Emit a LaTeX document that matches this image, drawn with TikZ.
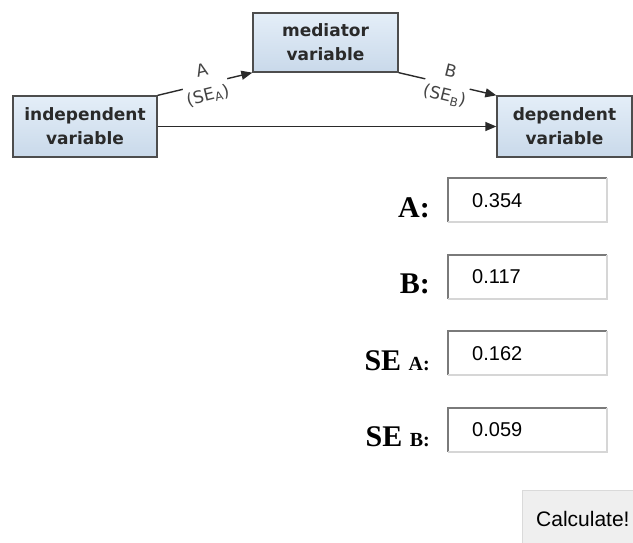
\documentclass[tikz,border=0pt]{standalone}
\usepackage{fontspec}
\setmainfont{Liberation Serif}
\newfontfamily\dvfont{DejaVu Sans}
\newfontfamily\arialfont{Liberation Sans}
\usetikzlibrary{arrows.meta}
\definecolor{boxedge}{HTML}{4D4D4D}
\definecolor{boxtop}{HTML}{E4EEF8}
\definecolor{boxbot}{HTML}{C9D9EA}
\definecolor{vartext}{HTML}{2A2A2A}
\definecolor{labeltext}{HTML}{444444}
\definecolor{connc}{HTML}{2A2A2A}
\definecolor{indark}{HTML}{7A7A7A}
\definecolor{inlight}{HTML}{D6D6D6}
\definecolor{btnfill}{HTML}{EFEFEF}
\definecolor{btnedge}{HTML}{DADADA}
\tikzset{
  varbox/.style={draw=boxedge, line width=1.3pt, top color=boxtop, bottom color=boxbot,
    font=\dvfont\bfseries\fontsize{17}{24}\selectfont, text=vartext, align=center, inner sep=0pt},
  conn/.style={draw=connc, line width=1.4pt, -{Triangle[length=11pt,width=9pt]}},
  elabel/.style={fill=white, inner sep=1pt, font=\dvfont\fontsize{17}{25}\selectfont,
    text=labeltext, align=center},
  inbox/.style={fill=white, minimum width=159pt, minimum height=44pt, inner sep=0pt, anchor=north west},
  indarkline/.style={draw=indark, line width=2pt},
  inlightline/.style={draw=inlight, line width=2pt},
  intext/.style={font=\arialfont\fontsize{20}{24}\selectfont, anchor=base west, inner sep=0pt},
  formlabel/.style={font=\bfseries\fontsize{30}{36}\selectfont, anchor=base east, inner sep=0pt},
}
\newcommand{\smalllab}[1]{{\fontsize{20}{24}\selectfont #1}}
\begin{document}
\begin{tikzpicture}[x=1pt,y=-1pt]
\useasboundingbox (0,0) rectangle (633,542);

% diagram boxes
\node[varbox, minimum width=144pt, minimum height=61pt] (ind) at (85,126.5) {\raisebox{-2pt}{independent}\\\raisebox{-2pt}{variable}};
\node[varbox, minimum width=145pt, minimum height=59pt] (med) at (325.5,42.5) {mediator\\variable};
\node[varbox, minimum width=135pt, minimum height=61pt] (dep) at (564.5,126.5) {\raisebox{-2pt}{dependent}\\\raisebox{-2pt}{variable}};

% connectors
\draw[conn] (ind.east) -- (dep.west);
\draw[conn] (ind.north east) -- node[elabel, rotate=14] {A\\(SE\textsubscript{A})} (med.south west);
\draw[conn] (med.south east) -- node[elabel, rotate=-14] {B\\(SE\textsubscript{B})} (dep.north west);

% form fields
\foreach \nm/\yy/\val in {fa/178/0.354, fb/254.5/0.117, fc/331/0.162, fd/407.5/0.059}{
  \node[inbox] (\nm) at (448,\yy) {};
  \draw[indarkline] (\nm.south west) -- (\nm.north west) -- (\nm.north east);
  \draw[inlightline] (\nm.north east) -- (\nm.south east) -- (\nm.south west);
  \node[intext] (\nm v) at (472,\yy+29) {\val};
}

% form labels
\node[formlabel] (la) at (430,217) {A:};
\node[formlabel] (lb) at (430,293.5) {B:};
\node[formlabel] (lc) at (430,370) {SE \smalllab{A:}};
\node[formlabel] (ld) at (430,446.5) {SE \smalllab{B:}};

% button
\node[fill=btnfill, draw=btnedge, line width=1pt, minimum width=120pt, minimum height=60pt,
  anchor=north west, inner sep=0pt] (btn) at (522,490) {};
\node[font=\arialfont\fontsize{21}{24}\selectfont, anchor=base west, inner sep=0pt] (btnt) at (536,526) {Calculate!};
\end{tikzpicture}
\end{document}
